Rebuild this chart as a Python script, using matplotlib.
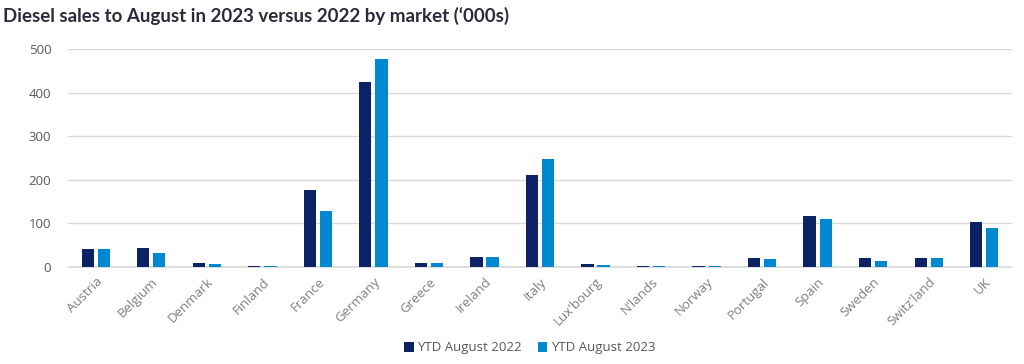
import matplotlib
matplotlib.use("Agg")
import matplotlib.pyplot as plt
import numpy as np

markets = ["Austria", "Belgium", "Denmark", "Finland", "France", "Germany", "Greece",
           "Ireland", "Italy", "Lux'bourg", "N'lands", "Norway", "Portugal", "Spain",
           "Sweden", "Switz'land", "UK"]
ytd_2022 = [41, 44, 10, 3, 177, 425, 10, 24, 212, 7, 3, 3, 21, 117, 21, 21, 103]
ytd_2023 = [41, 33, 7, 3, 128, 477, 10, 24, 248, 5, 3, 3, 18, 111, 13, 21, 89]
series_names = ["YTD August 2022", "YTD August 2023"]
yticks = [0, 100, 200, 300, 400, 500]

plt.rcParams['font.family'] = ['Open Sans', 'DejaVu Sans']

fig = plt.figure(figsize=(10.24, 3.64), dpi=100)
ax = fig.add_axes([68/1024, 1 - 267/364, (1012-68)/1024, (267-49)/364])

x = np.arange(len(markets))
w = 0.22
off = 0.145
ax.bar(x - off, ytd_2022, w, color="#0B2265", label=series_names[0], zorder=3)
ax.bar(x + off, ytd_2023, w, color="#0088D1", label=series_names[1], zorder=3)

ax.set_xlim(-0.5, len(markets) - 0.5)
ax.set_ylim(0, 500)
ax.set_yticks(yticks)
ax.set_yticklabels([str(v) for v in yticks], color="#595959", fontsize=9.5)
ax.yaxis.grid(True, color="#D9D9D9", linewidth=1, zorder=0)
ax.set_axisbelow(True)
for s in ["top", "right", "left"]:
    ax.spines[s].set_visible(False)
ax.spines["bottom"].set_color("#D9D9D9")
ax.spines["bottom"].set_linewidth(1.2)
ax.tick_params(axis="both", length=0)
ax.tick_params(axis="y", pad=12)
ax.set_xticks(x)
ax.set_xticklabels(markets, rotation=45, ha="right", rotation_mode="anchor",
                   color="#7F7F7F", fontsize=9.5)
ax.tick_params(axis="x", pad=6)

fig.text(0.003, 0.955, "Diesel sales to August in 2023 versus 2022 by market (\u2018000s)",
         fontsize=13.5, fontweight="bold", color="#2B2B3B", va="center", ha="left",
         family=["Lato", "DejaVu Sans"])

fig.legend(loc="center", bbox_to_anchor=(530/1024, 1 - 348/364), ncol=2, frameon=False,
           fontsize=9.5, handlelength=0.7, handleheight=0.7, handletextpad=0.3,
           columnspacing=1.2, labelcolor="#595959")

fig.savefig("out.png", dpi=100)
